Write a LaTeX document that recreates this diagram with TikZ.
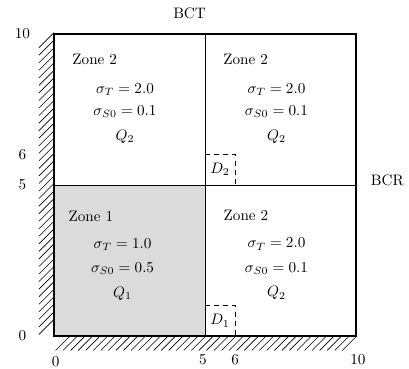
\documentclass[tikz,border=0pt]{standalone}
\usepackage{amsmath}
\usetikzlibrary{positioning}

\begin{document}
\begin{tikzpicture}[
    scale=0.7,
    wall/.style={ultra thick},
    zoneline/.style={semithick},
    hatch/.style={thin},
    detbox/.style={dashed, semithick},
    zonelabel/.style={font=\normalsize}
]
    \useasboundingbox (-1.79,-1.09) rectangle (11.76,11.13);
    % shaded zone 1
    \fill[gray!28] (0,0) rectangle (5,5);
    % hatched walls
    \foreach \y in {0.05,0.3,...,9.6}
        \draw[hatch] (-0.5,\y) -- (0,\y+0.5);
    \foreach \x in {0.05,0.3,...,9.6}
        \draw[hatch] (\x,-0.48) -- (\x+0.48,0);
    % detector regions
    \draw[detbox] (5,6) -- (6,6) -- (6,5);
    \draw[detbox] (5,1) -- (6,1) -- (6,0);
    % zone boundaries
    \draw[zoneline] (5,0) -- (5,10);
    \draw[zoneline] (0,5) -- (10,5);
    \draw[wall] (0,0) rectangle (10,10);

    \node[zonelabel] (zoneTL) at (1.35,9.15) {Zone 2};
    \node (sigtTL) at (2.35,8.15) {$\sigma_T = 2.0$};
    \node (sigsTL) at (2.35,7.42) {$\sigma_{S0} = 0.1$};
    \node (srcTL) at (2.35,6.6) {$Q_2$};

    \node[zonelabel] (zoneTR) at (6.35,9.15) {Zone 2};
    \node (sigtTR) at (7.37,8.15) {$\sigma_T = 2.0$};
    \node (sigsTR) at (7.37,7.42) {$\sigma_{S0} = 0.1$};
    \node (srcTR) at (7.37,6.6) {$Q_2$};

    \node[zonelabel] (zoneBL) at (1.22,3.97) {Zone 1};
    \node (sigtBL) at (2.27,3.02) {$\sigma_T = 1.0$};
    \node (sigsBL) at (2.27,2.22) {$\sigma_{S0} = 0.5$};
    \node (srcBL) at (2.27,1.4) {$Q_1$};

    \node[zonelabel] (zoneBR) at (6.36,3.99) {Zone 2};
    \node (sigtBR) at (7.37,3.04) {$\sigma_T = 2.0$};
    \node (sigsBR) at (7.37,2.24) {$\sigma_{S0} = 0.1$};
    \node (srcBR) at (7.37,1.42) {$Q_2$};

    \node (dettwo) at (5.5,5.52) {$D_2$};
    \node (detone) at (5.5,0.5) {$D_1$};

    % axis values
    \node (yten) at (-1.05,10) {10};
    \node (ysix) at (-1.05,6) {6};
    \node (yfive) at (-1.05,5) {5};
    \node (yzero) at (-1.05,0) {0};
    \node (xzero) at (0.05,-0.84) {0};
    \node (xfive) at (4.93,-0.8) {5};
    \node (xsix) at (6,-0.8) {6};
    \node (xten) at (10.07,-0.8) {10};

    \node (bct) at (4.49,10.69) {BCT};
    \node (bcr) at (11.04,5.17) {BCR};
\end{tikzpicture}
\end{document}
